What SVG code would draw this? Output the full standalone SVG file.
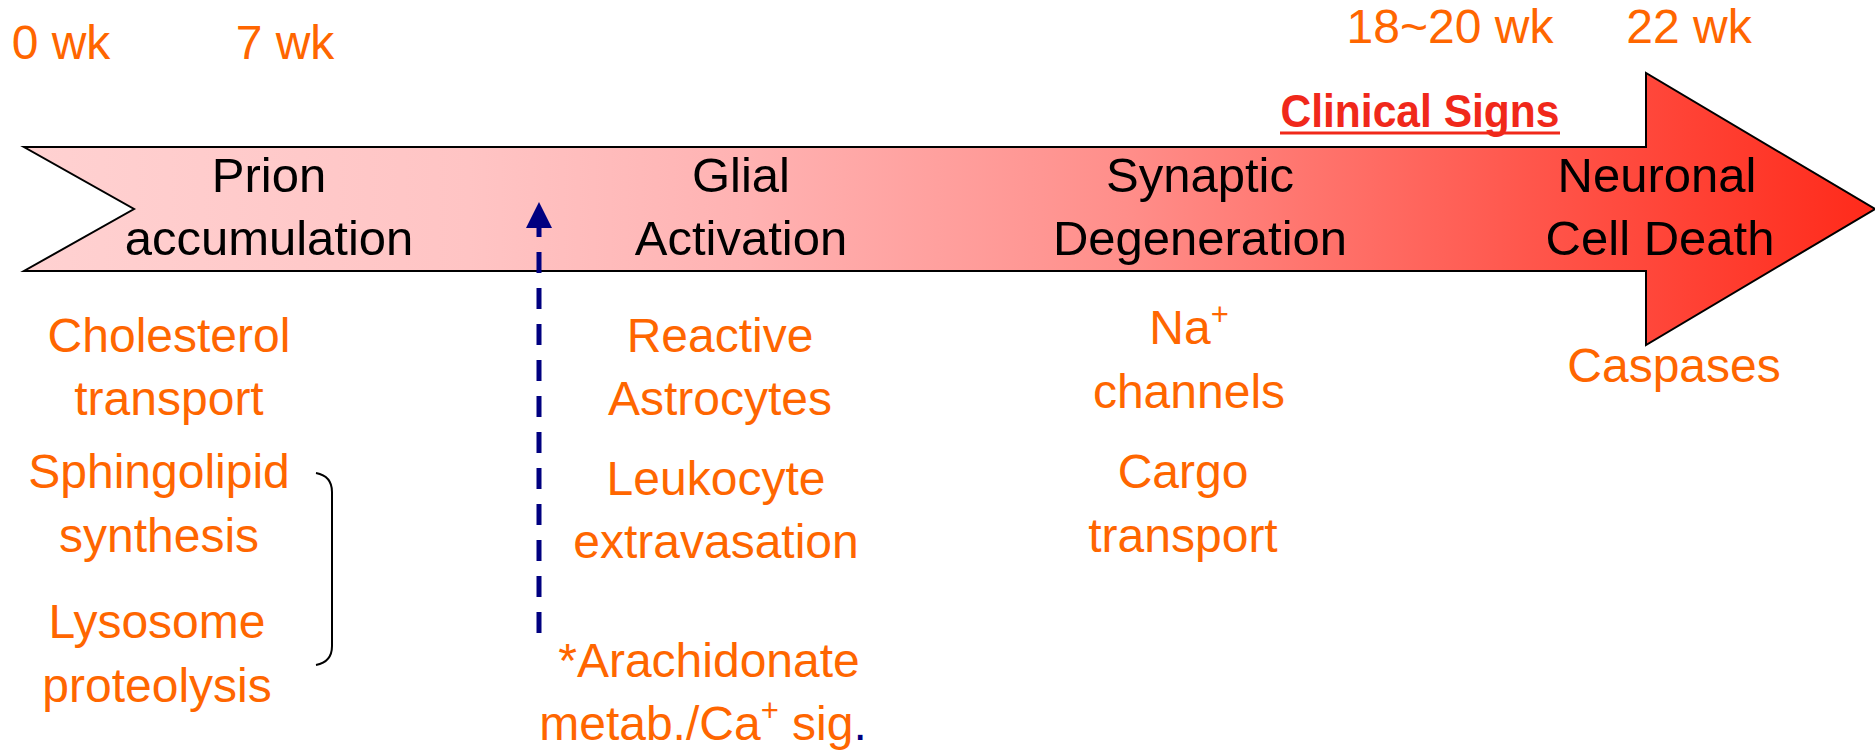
<svg xmlns="http://www.w3.org/2000/svg" width="1875" height="750" viewBox="0 0 1875 750">
<defs>
<linearGradient id="g" x1="0" y1="0" x2="1875" y2="0" gradientUnits="userSpaceOnUse">
<stop offset="0" stop-color="#FFD2D2"/>
<stop offset="0.25" stop-color="#FFC4C4"/>
<stop offset="0.4" stop-color="#FFB2B2"/>
<stop offset="0.6" stop-color="#FF8E8A"/>
<stop offset="0.8" stop-color="#FF5A50"/>
<stop offset="1" stop-color="#FF2A1A"/>
</linearGradient>
<style>
.lbl{font-family:"Liberation Sans",Arial,sans-serif;font-size:49px;fill:#000;text-anchor:middle}
.or{font-family:"Liberation Sans",Arial,sans-serif;font-size:48px;fill:#FF6600;text-anchor:middle}
.wk{font-family:"Liberation Sans",Arial,sans-serif;font-size:48px;fill:#FF6600;text-anchor:middle}
.cs{font-family:"Liberation Sans",Arial,sans-serif;font-size:46px;font-weight:bold;fill:#F0281A;text-anchor:middle}
</style>
</defs>
<rect width="1875" height="750" fill="#fff"/>
<g id="timeline-arrow">
<path d="M24,147 L1646,147 L1646,73 L1875,209 L1646,345 L1646,271 L24,271 L134,209 Z" fill="url(#g)" stroke="#000" stroke-width="2"/>
</g>
<g id="weeks">
<text class="wk" x="61" y="59">0 wk</text>
<text class="wk" x="285" y="59">7 wk</text>
<text class="wk" x="1450" y="43">18~20 wk</text>
<text class="wk" x="1689" y="43">22 wk</text>
</g>
<g id="clinical-signs">
<text class="cs" x="1420" y="127" textLength="279" lengthAdjust="spacingAndGlyphs">Clinical Signs</text>
<line x1="1280" y1="133" x2="1560" y2="133" stroke="#F0281A" stroke-width="3"/>
</g>
<g id="stage-prion"><text class="lbl" x="269" y="192">Prion</text><text class="lbl" x="269" y="255">accumulation</text></g>
<g id="stage-glial"><text class="lbl" x="741" y="192">Glial</text><text class="lbl" x="741" y="255">Activation</text></g>
<g id="stage-synaptic"><text class="lbl" x="1200" y="192">Synaptic</text><text class="lbl" x="1200" y="255">Degeneration</text></g>
<g id="stage-neuronal"><text class="lbl" x="1657" y="192">Neuronal</text><text class="lbl" x="1660" y="255">Cell Death</text></g>
<g id="prion-items">
<text class="or" x="169" y="352">Cholesterol</text><text class="or" x="169" y="415">transport</text>
<text class="or" x="159" y="488">Sphingolipid</text><text class="or" x="159" y="552">synthesis</text>
<text class="or" x="157" y="638">Lysosome</text><text class="or" x="157" y="702">proteolysis</text>
</g>
<g id="glial-items">
<text class="or" x="720" y="352">Reactive</text><text class="or" x="720" y="415">Astrocytes</text>
<text class="or" x="716" y="495">Leukocyte</text><text class="or" x="716" y="558">extravasation</text>
<text class="or" x="709" y="677">*Arachidonate</text>
<text class="or" x="703" y="740">metab./Ca<tspan font-size="31" dy="-19">+</tspan><tspan dy="19"> sig</tspan><tspan fill="#000080">.</tspan></text>
</g>
<g id="synaptic-items">
<text class="or" x="1189" y="344">Na<tspan font-size="31" dy="-19">+</tspan></text><text class="or" x="1189" y="408">channels</text>
<text class="or" x="1183" y="488">Cargo</text><text class="or" x="1183" y="552">transport</text>
</g>
<g id="neuronal-items">
<text class="or" x="1674" y="382">Caspases</text>
</g>
<g id="connectors">
<path d="M316,473 Q332,476 332,492 L332,646 Q332,662 316,665" fill="none" stroke="#000" stroke-width="2"/>
<line x1="539" y1="633" x2="539" y2="227" stroke="#000080" stroke-width="5" stroke-dasharray="21 15"/>
<polygon points="539,202 526,228 552,228" fill="#000080"/>
</g>
</svg>
